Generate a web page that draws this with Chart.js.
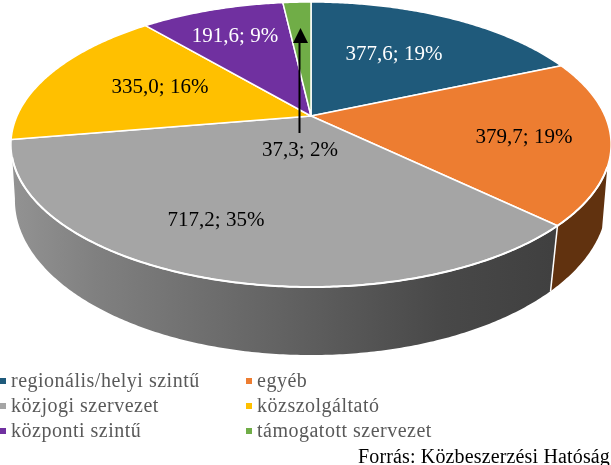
<!DOCTYPE html>
<html lang="hu">
<head>
<meta charset="utf-8">
<title>Forrás: Közbeszerzési Hatóság</title>
<script src="https://cdn.jsdelivr.net/npm/chart.js@4/dist/chart.umd.js"></script>
<style>
  html, body { margin: 0; padding: 0; background: #fff; }
  #wrap { position: relative; width: 611px; height: 465px; overflow: hidden; font-family: "Liberation Serif", serif; }
  #legend div { position: absolute; color: #595959; font-size: 20px; line-height: 24px; white-space: nowrap; letter-spacing: 0.5px; }
  #legend i { position: absolute; width: 6px; height: 6px; }
  #source { position: absolute; right: 1px; top: 444px; font-size: 20px; line-height: 24px; color: #000; white-space: nowrap; letter-spacing: 0.15px; }
</style>
</head>
<body>
<div id="wrap">
  <canvas id="chart" width="611" height="465"></canvas>
  <div id="legend"></div>
  <div id="source">Forrás: Közbeszerzési Hatóság</div>
</div>
<script>
const labels = ["regionális/helyi szintű", "egyéb", "közjogi szervezet", "közszolgáltató", "központi szintű", "támogatott szervezet"];
const values = [377.6, 379.7, 717.2, 335.0, 191.6, 37.3];
const colors = ["#1f5a7b", "#ed7d31", "#a5a5a5", "#ffc000", "#7030a0", "#70ad47"];
const labelColors = ["#fff", "#000", "#000", "#000", "#fff", "#000"];

// where the value labels sit (centre of text), placed by hand like in the original
const labelPos = [[394, 54], [524, 137], [216, 220], [160, 87], [235, 36], [300, 150]];

// perspective of the lying disc: unit circle -> screen
const CX = 311;
const topFace = { s: 294, a: 113.6, b: 116, c: -0.2 };
const bottomFace = { s: 291.5, a: 120, b: 172.9, c: -0.175 };
const WALL_START = 0.354; // right silhouette of the wall, radians

function project(face, angle) {
  const x = Math.cos(angle), y = Math.sin(angle);
  const w = 1 + face.c * y;
  return [CX + face.s * x / w, (face.b + face.a * y) / w];
}

function rim(ctx, face, from, to, move) {
  const n = Math.max(2, Math.ceil(Math.abs(to - from) / 0.01));
  for (let i = 0; i <= n; i++) {
    const p = project(face, from + (to - from) * i / n);
    if (i === 0 && move) ctx.moveTo(p[0], p[1]);
    else ctx.lineTo(p[0], p[1]);
  }
}

function wallFill(ctx, index) {
  if (index === 1) return "#61320f";
  const g = ctx.createLinearGradient(15, 0, 552, 0);
  g.addColorStop(0, "#929292");
  g.addColorStop(0.15, "#808080");
  g.addColorStop(0.5, "#626262");
  g.addColorStop(0.8, "#484848");
  g.addColorStop(1, "#404040");
  return g;
}

const pie3d = {
  id: "pie3d",
  // the arcs come from the doughnut controller, only the drawing is replaced
  beforeDatasetDraw(chart) {
    const ctx = chart.ctx;
    const arcs = chart.getDatasetMeta(0).data;
    ctx.save();
    ctx.lineJoin = "round";

    // side walls, only the two front slices show one
    [1, 2].forEach(i => {
      const from = Math.max(arcs[i].startAngle, WALL_START);
      const to = arcs[i].endAngle;
      ctx.beginPath();
      rim(ctx, topFace, from, to, true);
      rim(ctx, bottomFace, to, from, false);
      ctx.closePath();
      ctx.fillStyle = wallFill(ctx, i);
      ctx.fill();
    });

    // seam between the walls
    const seam = arcs[2].startAngle;
    const s0 = project(topFace, seam), s1 = project(bottomFace, seam);
    ctx.beginPath();
    ctx.moveTo(s0[0], s0[1]);
    ctx.lineTo(s1[0], s1[1]);
    ctx.strokeStyle = "#fff";
    ctx.lineWidth = 1.5;
    ctx.stroke();

    // top face
    arcs.forEach((arc, i) => {
      ctx.beginPath();
      ctx.moveTo(CX, topFace.b);
      rim(ctx, topFace, arc.startAngle, arc.endAngle, false);
      ctx.closePath();
      ctx.fillStyle = colors[i];
      ctx.fill();
      ctx.strokeStyle = "#fff";
      ctx.lineWidth = 1.5;
      ctx.stroke();
    });

    // the front edge catches more white
    ctx.beginPath();
    rim(ctx, topFace, WALL_START, arcs[2].endAngle - 0.12, true);
    ctx.strokeStyle = "#fff";
    ctx.lineWidth = 2;
    ctx.stroke();
    ctx.restore();
    return false;
  },
  afterDatasetsDraw(chart) {
    const ctx = chart.ctx;
    const total = values.reduce((a, b) => a + b, 0);
    ctx.save();
    ctx.font = '21px "Liberation Serif"';
    ctx.textAlign = "center";
    ctx.textBaseline = "middle";
    values.forEach((v, i) => {
      const txt = v.toFixed(1).replace(".", ",") + "; " + Math.round(v / total * 100) + "%";
      ctx.fillStyle = labelColors[i];
      ctx.fillText(txt, labelPos[i][0], labelPos[i][1]);
    });

    // leader arrow of the small green slice
    ctx.strokeStyle = "#000";
    ctx.fillStyle = "#000";
    ctx.lineWidth = 2;
    ctx.beginPath();
    ctx.moveTo(299.5, 133);
    ctx.lineTo(299.5, 42);
    ctx.stroke();
    ctx.beginPath();
    ctx.moveTo(300.5, 28);
    ctx.lineTo(308, 43);
    ctx.lineTo(293, 43);
    ctx.closePath();
    ctx.fill();
    ctx.restore();
  }
};

new Chart(document.getElementById("chart"), {
  type: "pie",
  data: {
    labels: labels,
    datasets: [{ data: values, backgroundColor: colors, borderWidth: 0 }]
  },
  options: {
    responsive: false,
    animation: false,
    plugins: {
      legend: { display: false },
      tooltip: { enabled: false }
    }
  },
  plugins: [pie3d]
});

// legend in two columns, filled row by row
const legendEl = document.getElementById("legend");
const columnX = [0, 246], rowY = [368, 393, 418];
labels.forEach((name, i) => {
  const left = columnX[i % 2], top = rowY[Math.floor(i / 2)];
  const row = document.createElement("div");
  row.style.left = (left + 11) + "px";
  row.style.top = top + "px";
  row.textContent = name;
  const box = document.createElement("i");
  box.style.cssText = "left:" + left + "px;top:" + (top + 10) + "px;background:" + colors[i];
  legendEl.appendChild(row);
  legendEl.appendChild(box);
});
</script>
</body>
</html>
